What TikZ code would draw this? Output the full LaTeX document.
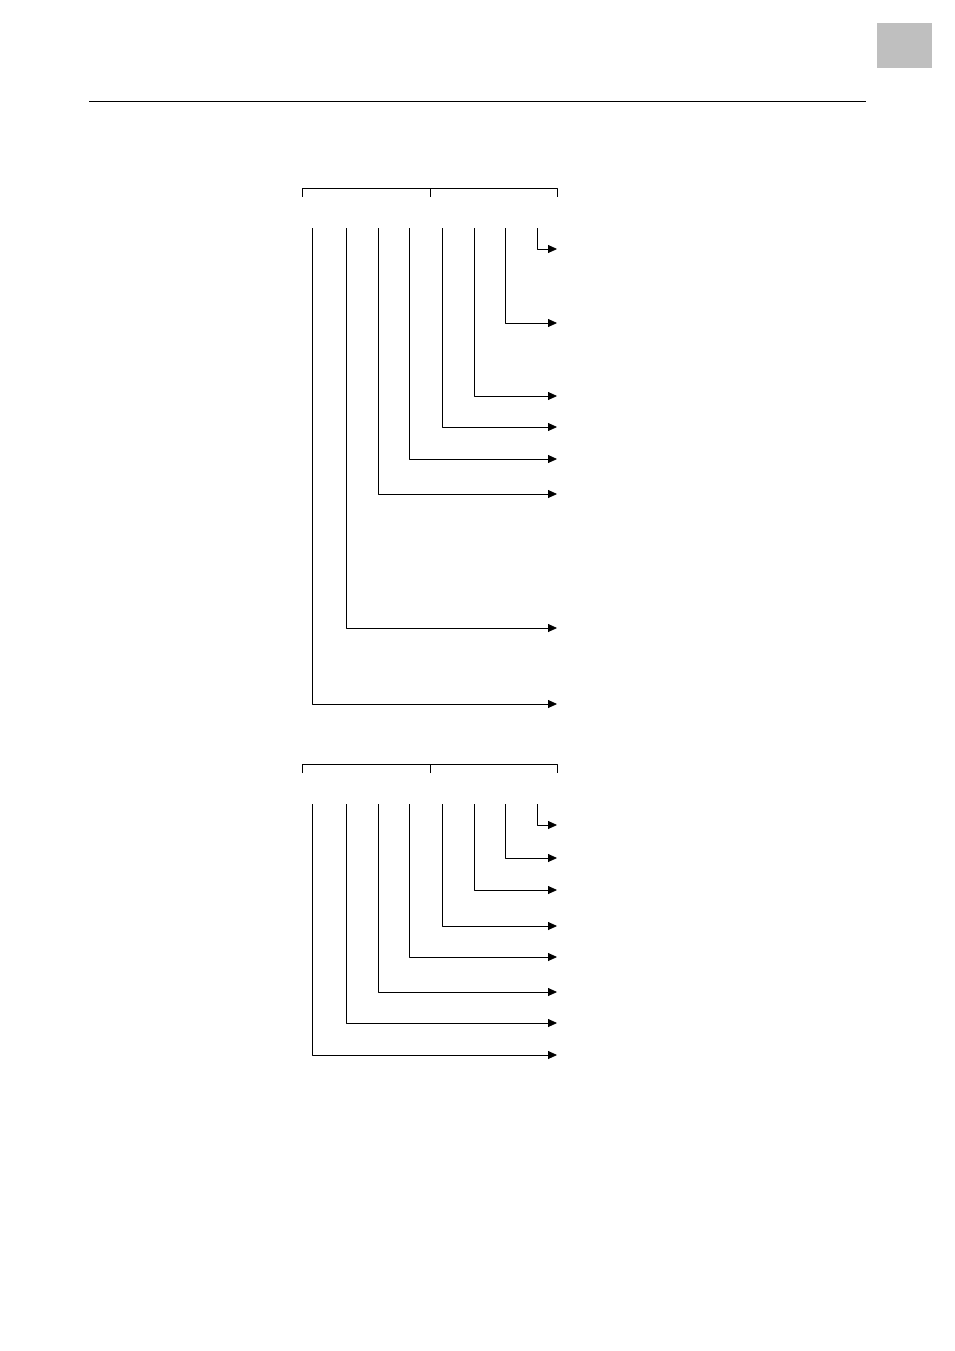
\documentclass[tikz,border=0pt]{standalone}
\usetikzlibrary{arrows.meta}
\begin{document}
\begin{tikzpicture}[x=1pt, y=-1pt, line width=0.8pt, line join=round, >={Triangle[length=9pt,width=8pt]}]
			\useasboundingbox (0,0) rectangle (954,1351);
			\fill[black!25] (877,23) rectangle (932,68);
			\draw (89,101)--(866,101);
			%=== upper scheme
			\coordinate (bl1) at (302,197); \coordinate (bm1) at (430,197); \coordinate (br1) at (557,197);
			\draw (bl1)--(302,188)--(557,188)--(br1) (bm1)--(430,188);
			\foreach \x/\y [count=\i] in {537/249, 505/323, 474/396, 442/427, 409/459, 378/494, 346/628, 312/704}{
				\coordinate (ua\i) at (\x,228);
				\coordinate (ub\i) at (557,\y);
				\draw[->] (ua\i)|-(ub\i);
			}
			%=== lower scheme
			\coordinate (bl2) at (302,773); \coordinate (bm2) at (430,773); \coordinate (br2) at (557,773);
			\draw (bl2)--(302,764)--(557,764)--(br2) (bm2)--(430,764);
			\foreach \x/\y [count=\i] in {537/825, 505/858, 474/890, 442/926, 409/957, 378/992, 346/1023, 312/1055}{
				\coordinate (la\i) at (\x,804);
				\coordinate (lb\i) at (557,\y);
				\draw[->] (la\i)|-(lb\i);
			}
		\end{tikzpicture}
\end{document}
